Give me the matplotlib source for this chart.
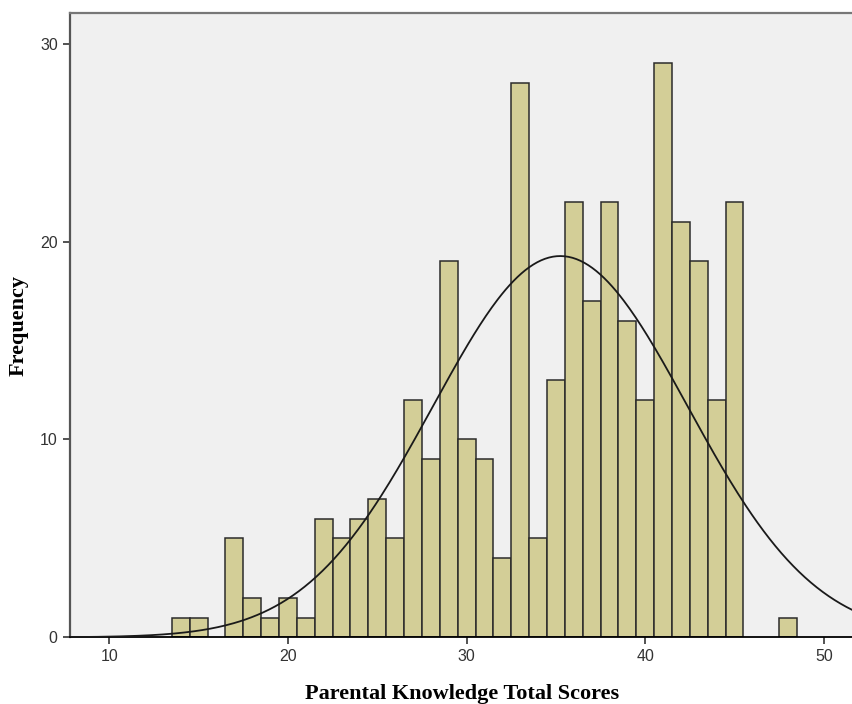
import numpy as np
from matplotlib import pyplot as plt

# scores and how many respondents got each score
scores = [14, 15, 17, 18, 19, 20, 21, 22, 23, 24, 25, 26, 27, 28, 29, 30, 31, 32,
          33, 34, 35, 36, 37, 38, 39, 40, 41, 42, 43, 44, 45, 48]
counts = [1, 1, 5, 2, 1, 2, 1, 6, 5, 6, 7, 5, 12, 9, 19, 10, 9, 4,
          28, 5, 13, 22, 17, 22, 16, 12, 29, 21, 19, 12, 22, 1]
x_ticks = [10, 20, 30, 40, 50]
y_ticks = [0, 10, 20, 30]

fig = plt.figure(figsize=(8.52, 7.04), dpi=100)
ax = fig.add_axes([0.0816, 0.0947, 0.921, 0.8868])
ax.set_facecolor('#f0f0f0')

# histogram bars
ax.bar(scores, counts, width=1.0, color='#d3ce97', edgecolor='#2b2b2b', linewidth=1.1, zorder=2)

# normal curve from the data
s = np.array(scores, dtype=float)
c = np.array(counts, dtype=float)
n = c.sum()
mu = (s * c).sum() / n
sd = np.sqrt((c * (s - mu) ** 2).sum() / (n - 1))
xs = np.linspace(7.7, 51.7, 400)
ys = n * 1.0 * np.exp(-0.5 * ((xs - mu) / sd) ** 2) / (sd * np.sqrt(2 * np.pi))
ax.plot(xs, ys, color='#1a1a1a', linewidth=1.3, zorder=3)

ax.set_xlim(7.77, 51.70)
ax.set_ylim(0, 31.55)
ax.set_xticks(x_ticks)
ax.set_yticks(y_ticks)
ax.tick_params(direction='out', length=5, width=1.3, color='#444444',
               labelsize=11.5, labelcolor='#333333')
for lab in ax.get_xticklabels() + ax.get_yticklabels():
    lab.set_family('Liberation Sans')

ax.spines['right'].set_visible(False)
ax.spines['left'].set_color('#555555')
ax.spines['left'].set_linewidth(1.6)
ax.spines['top'].set_color('#777777')
ax.spines['top'].set_linewidth(1.6)
ax.spines['bottom'].set_color('#000000')
ax.spines['bottom'].set_linewidth(1.3)

ax.set_xlabel('Parental Knowledge Total Scores', family='Liberation Serif',
              fontweight='bold', fontsize=16, labelpad=14)
ax.set_ylabel('Frequency', family='Liberation Serif', fontweight='bold',
              fontsize=16, labelpad=8)

plt.savefig('out.png', dpi=100)
